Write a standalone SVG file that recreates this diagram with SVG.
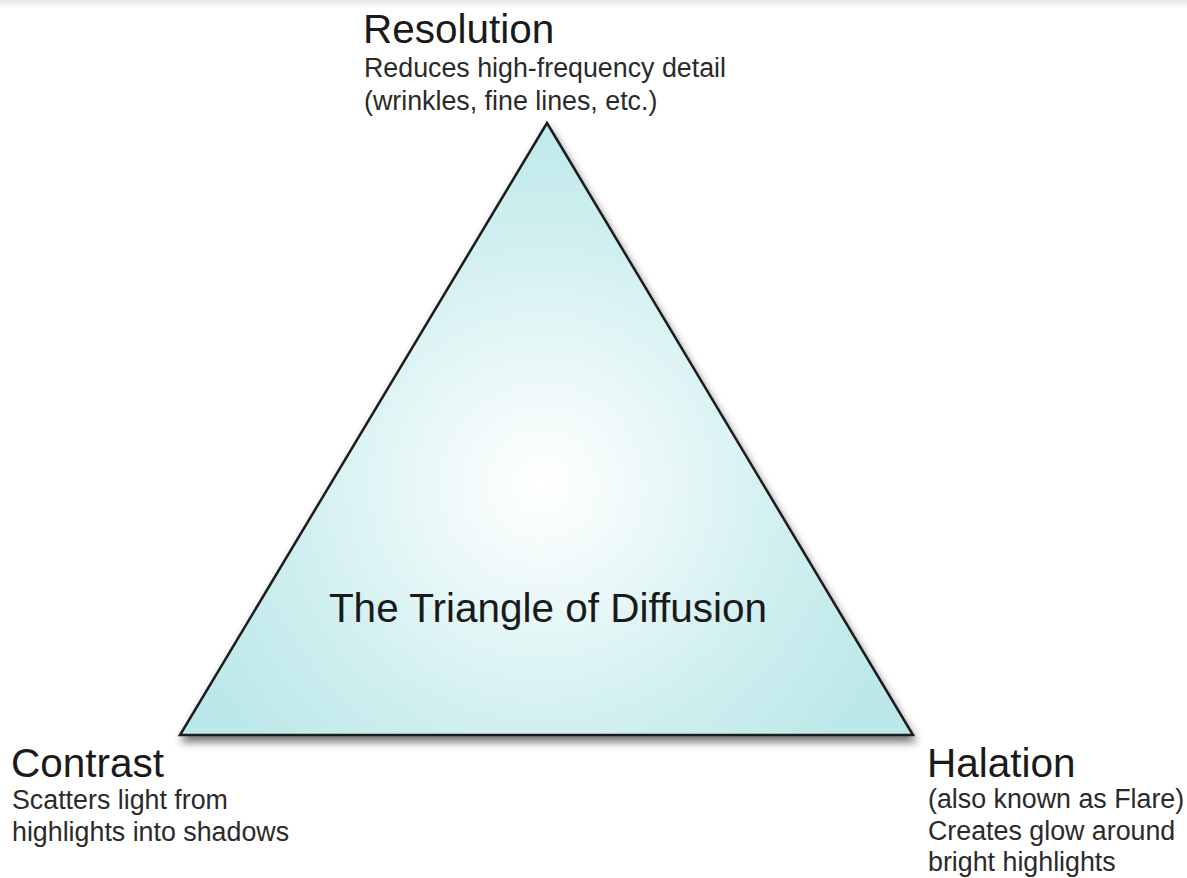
<svg xmlns="http://www.w3.org/2000/svg" width="1187" height="878" viewBox="0 0 1187 878">
<style>
  text{font-family:'Liberation Sans',Arial,Helvetica,sans-serif}
  .title{font-size:40.5px;fill:#1a1a1a}
  .sub{font-size:26.8px;fill:#2a2a2a}
</style>
<defs>
  <linearGradient id="topband" x1="0" y1="0" x2="0" y2="1">
    <stop offset="0" stop-color="#e4e4e4"/>
    <stop offset="1" stop-color="#ffffff"/>
  </linearGradient>
  <radialGradient id="fill" gradientUnits="userSpaceOnUse" cx="542" cy="485" r="380">
    <stop offset="0" stop-color="#ffffff"/>
    <stop offset="0.2" stop-color="#f2fbfb"/>
    <stop offset="0.7" stop-color="#cdeeef"/>
    <stop offset="1" stop-color="#bde8e9"/>
  </radialGradient>
  <filter id="shadow" x="-10%" y="-10%" width="120%" height="125%">
    <feGaussianBlur in="SourceAlpha" stdDeviation="4"/>
    <feOffset dx="2" dy="6" result="b"/>
    <feComponentTransfer><feFuncA type="linear" slope="0.55"/></feComponentTransfer>
    <feMerge><feMergeNode/><feMergeNode in="SourceGraphic"/></feMerge>
  </filter>
</defs>
<rect width="1187" height="878" fill="#ffffff"/>
<rect width="1187" height="8" fill="url(#topband)"/>
<g id="triangle">
  <polygon points="547,123 180,735 913,735" fill="url(#fill)" stroke="#1c1c1c" stroke-width="2.5" stroke-linejoin="miter" filter="url(#shadow)"/>
  <text class="title" x="548" y="622" text-anchor="middle">The Triangle of Diffusion</text>
</g>
<g id="resolution">
  <text class="title" x="363" y="43">Resolution</text>
  <text class="sub" x="364" y="77">Reduces high-frequency detail</text>
  <text class="sub" x="364" y="110">(wrinkles, fine lines, etc.)</text>
</g>
<g id="contrast">
  <text class="title" x="11" y="777">Contrast</text>
  <text class="sub" x="12" y="809">Scatters light from</text>
  <text class="sub" x="12" y="841">highlights into shadows</text>
</g>
<g id="halation">
  <text class="title" x="927" y="777">Halation</text>
  <text class="sub" x="928" y="808">(also known as Flare)</text>
  <text class="sub" x="928" y="840">Creates glow around</text>
  <text class="sub" x="928" y="870.5">bright highlights</text>
</g>
<g id="connectors"></g>
</svg>
